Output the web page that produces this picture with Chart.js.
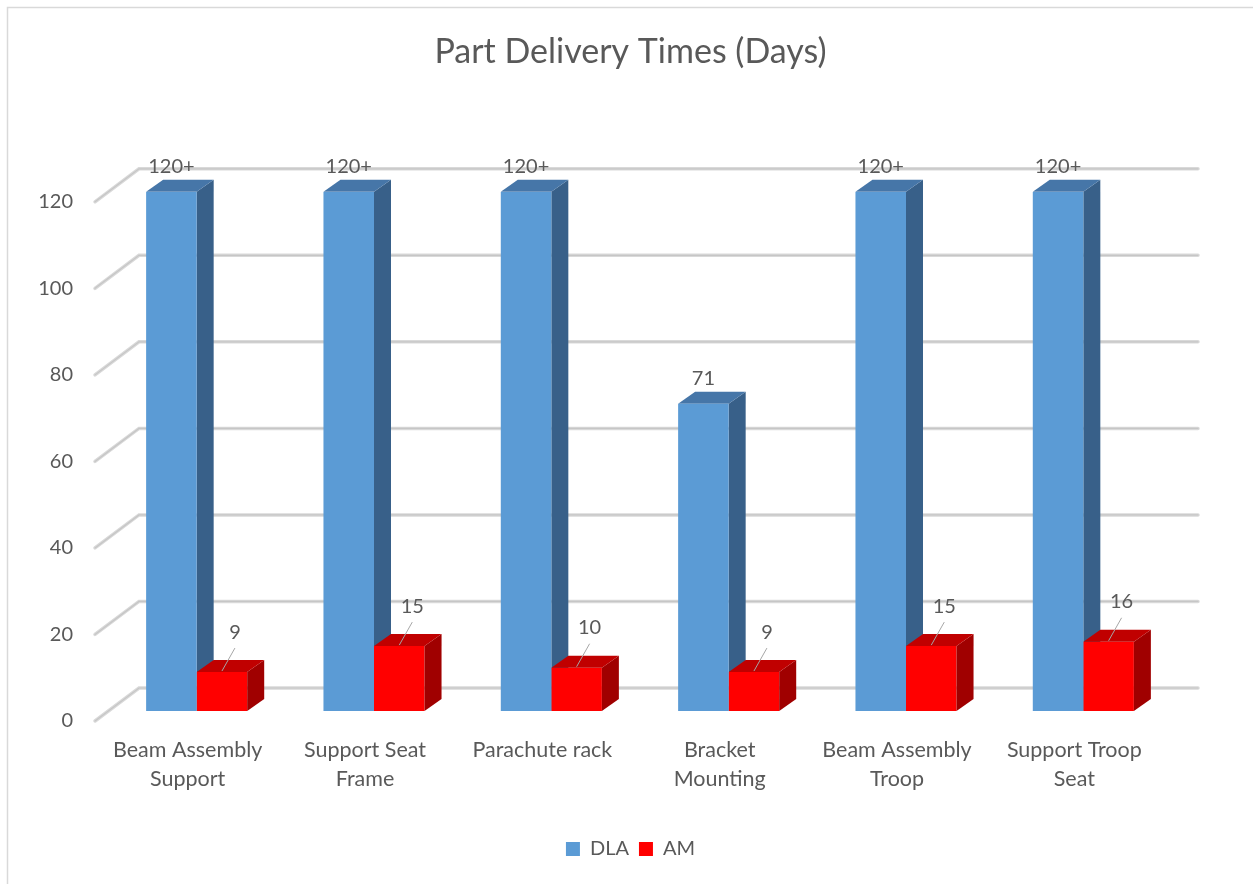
<!DOCTYPE html>
<html>
<head>
<meta charset="utf-8">
<script src="https://cdn.jsdelivr.net/npm/chart.js@4.4.0/dist/chart.umd.min.js"></script>
<style>
  html, body { margin: 0; padding: 0; background: #fff; }
</style>
</head>
<body>
<canvas id="deliveryChart" width="1253" height="884"></canvas>
<script>
const categories = [
    ['Beam Assembly', 'Support'],
    ['Support Seat', 'Frame'],
    'Parachute rack',
    ['Bracket', 'Mounting'],
    ['Beam Assembly', 'Troop'],
    ['Support Troop', 'Seat']
];
const dlaDays = [120, 120, 120, 71, 120, 120];
const dlaLabels = ['120+', '120+', '120+', '71', '120+', '120+'];
const amDays = [9, 15, 10, 9, 15, 16];
const amLabels = ['9', '15', '10', '9', '15', '16'];

const textColor = '#595959';
const fontFamily = 'Lato, "Open Sans", sans-serif';
const depthX = 17, depthY = 12;

const faces = {
    0: { top: '#4676A8', side: '#386089' },
    1: { top: '#C00000', side: '#A00000' }
};

function drawFaces(chart, dsIndex) {
    const ctx = chart.ctx;
    const meta = chart.getDatasetMeta(dsIndex);
    const col = faces[dsIndex];
    meta.data.forEach(bar => {
        const l = bar.x - bar.width / 2, r = bar.x + bar.width / 2;
        const t = bar.y, b = bar.base;
        ctx.fillStyle = col.side;
        ctx.beginPath();
        ctx.moveTo(r, t); ctx.lineTo(r + depthX, t - depthY);
        ctx.lineTo(r + depthX, b - depthY); ctx.lineTo(r, b);
        ctx.closePath(); ctx.fill();
        ctx.fillStyle = col.top;
        ctx.beginPath();
        ctx.moveTo(l, t); ctx.lineTo(l + depthX, t - depthY);
        ctx.lineTo(r + depthX, t - depthY); ctx.lineTo(r, t);
        ctx.closePath(); ctx.fill();
    });
}

const box3d = {
    id: 'box3d',
    beforeDraw(chart) {
        const ctx = chart.ctx;
        ctx.save();
        ctx.strokeStyle = '#d9d9d9';
        ctx.lineWidth = 1.5;
        ctx.beginPath();
        ctx.moveTo(7.5, chart.height); ctx.lineTo(7.5, 7.5); ctx.lineTo(chart.width, 7.5);
        ctx.stroke();
        ctx.restore();
    },
    beforeDatasetsDraw(chart) {
        const ctx = chart.ctx;
        const area = chart.chartArea;
        const y = chart.scales.y;
        ctx.save();
        ctx.lineCap = 'round';
        y.ticks.forEach(tk => {
            const py = y.getPixelForValue(tk.value);
            const pts = [[area.left - 13, py + 10], [area.left + 31, py - 23], [area.right + 26, py - 23]];
            [[3.5, '#d9d9d9'], [1.2, '#c6c6c6']].forEach(([w, c]) => {
                ctx.lineWidth = w; ctx.strokeStyle = c;
                ctx.beginPath();
                ctx.moveTo(pts[0][0], pts[0][1]);
                ctx.lineTo(pts[1][0], pts[1][1]);
                ctx.lineTo(pts[2][0], pts[2][1]);
                ctx.stroke();
            });
        });
        drawFaces(chart, 0);
        ctx.restore();
    },
    afterDatasetsDraw(chart) {
        const ctx = chart.ctx;
        ctx.save();
        drawFaces(chart, 1);
        ctx.font = '20px ' + fontFamily;
        ctx.fillStyle = textColor;
        ctx.textAlign = 'center';
        ctx.textBaseline = 'middle';
        chart.getDatasetMeta(0).data.forEach((bar, i) => {
            ctx.fillText(dlaLabels[i], bar.x, bar.y - 25);
        });
        chart.getDatasetMeta(1).data.forEach((bar, i) => {
            const lx = bar.x + 13, ly = bar.y - 40;
            ctx.strokeStyle = '#a6a6a6';
            ctx.lineWidth = 1;
            ctx.beginPath();
            ctx.moveTo(lx, ly + 16); ctx.lineTo(bar.x, bar.y - 1);
            ctx.stroke();
            ctx.fillText(amLabels[i], lx, ly);
        });
        ctx.restore();
    }
};

new Chart(document.getElementById('deliveryChart'), {
    type: 'bar',
    data: {
        labels: categories,
        datasets: [
            { label: 'DLA', data: dlaDays, backgroundColor: '#5B9BD5' },
            { label: 'AM', data: amDays, backgroundColor: '#FF0000' }
        ]
    },
    options: {
        responsive: false,
        devicePixelRatio: 1,
        animation: false,
        categoryPercentage: 0.57,
        barPercentage: 1,
        layout: { padding: { left: 8, right: 0, top: 0, bottom: 15 } },
        scales: {
            x: {
                grid: { display: false, drawTicks: false },
                border: { display: false },
                ticks: {
                    color: textColor,
                    font: { family: fontFamily, size: 21.5, lineHeight: 1.35 },
                    padding: 25,
                    labelOffset: -9,
                    maxRotation: 0,
                    autoSkip: false
                },
                afterFit: s => { s.height = 118; }
            },
            y: {
                min: 0,
                max: 120,
                grid: { display: false, drawTicks: false },
                border: { display: false },
                ticks: {
                    stepSize: 20,
                    color: textColor,
                    font: { family: fontFamily, size: 20 },
                    padding: 35,
                    labelOffset: 10
                },
                afterFit: s => { s.width = 100; }
            },
            yRight: {
                position: 'right',
                grid: { display: false, drawTicks: false },
                border: { display: false },
                ticks: { display: false },
                afterFit: s => { s.width = 81; }
            }
        },
        plugins: {
            title: {
                display: true,
                text: 'Part Delivery Times (Days)',
                color: textColor,
                font: { family: fontFamily, size: 34, weight: 'normal', lineHeight: 1.2 },
                padding: { top: 32, bottom: 119 }
            },
            legend: {
                position: 'bottom',
                labels: {
                    boxWidth: 14,
                    boxHeight: 14,
                    padding: 10,
                    color: textColor,
                    font: { family: fontFamily, size: 20 }
                }
            },
            tooltip: { enabled: false }
        }
    },
    plugins: [box3d]
});
</script>
</body>
</html>
